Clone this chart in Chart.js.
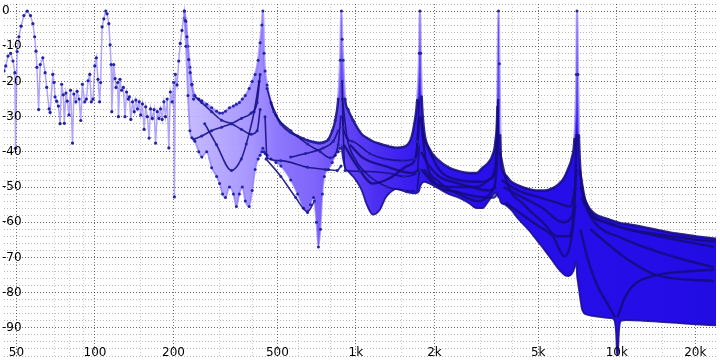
<!DOCTYPE html>
<html>
<head>
<meta charset="utf-8">
<script src="https://cdn.jsdelivr.net/npm/chart.js@4.4.1/dist/chart.umd.min.js"></script>
<style>
  html, body { margin: 0; padding: 0; background: #fff; }
  #wrap { width: 720px; height: 360px; }
</style>
</head>
<body>
<div id="wrap"><canvas id="resp" width="720" height="360"></canvas></div>
<script>
// axis ticks
const xMajorTicks = [50, 100, 200, 500, 1000, 2000, 5000, 10000, 20000];
const xLabels = ['50', '100', '200', '500', '1k', '2k', '5k', '10k', '20k'];
const xMinorTicks = [70, 80, 90, 150, 300, 400, 600, 800, 1500, 3000, 4000, 6000, 8000, 15000];
const yLabels = [0, -10, -20, -30, -40, -50, -60, -70, -80, -90];

// low band sweep, [Hz, dB]
const lowSweep = [
  [44.8,-17],[45.5,-15.6],[46.4,-12.8],[47.5,-12],[48.5,-14.2],[49.3,-17.5],[49.6,-39],[50.3,-11.5],
  [51.1,-7.3],[52.1,-4.3],[53.4,-1.3],[55,0],[56.6,-1.3],[57.8,-3.6],[58.7,-7.3],[59.4,-11.4],
  [59.9,-16],[60.8,-28],[61.7,-15.2],[63.1,-13.3],[64.4,-17.5],[65.3,-21.7],[66.7,-27.8],[67.3,-28.8],
  [68.9,-18],[69.7,-20.3],[70.3,-24.4],[71.3,-25.6],[72.4,-27],[73.5,-32],[74.5,-20.8],[75.6,-23.8],
  [76.3,-31.9],[77.4,-23.3],[78.3,-25.6],[79.5,-29.5],[80.6,-22.5],[82,-37.5],[83,-23.6],[84.5,-25.8],
  [85.4,-22.8],[86.9,-25],[88.2,-31.1],[89.5,-20.8],[91.4,-25.8],[92.7,-25],[94.1,-19.8],[95.5,-18],
  [96.8,-25.8],[98.3,-25],[99.8,-15.6],[101.2,-13.3],[102.7,-19.4],[104.2,-25.8],[105.1,-20.3],[106.5,-4.5],
  [108.1,-2.2],[110,0],[111.3,-0.8],[113,-3.6],[114.3,-9.6],[115.3,-15.2],[116,-28.6],[118,-15.2],
  [119.4,-19.2],[120.4,-21.7],[122.2,-20.3],[123,-30],[124.7,-19.4],[126.5,-22.5],[128.5,-21.7],[130.3,-30],
  [132.2,-23],[134.2,-25],[135.4,-24.4],[137.2,-30.8],[139.3,-25.8],[141.4,-28.6],[143.4,-25.3],[145.5,-27.8],
  [147.7,-25.8],[149.7,-29.5],[152,-26.4],[154.3,-33.6],[156.4,-27.2],[158.8,-30],[161.2,-36.1],[163.3,-27.8],
  [165.9,-30.5],[168.4,-28],[170.7,-37.5],[173.3,-28.6],[175.9,-30.5],[178.3,-27.8],[181,-30.8],[183.7,-25.8],
  [186.3,-30],[189.1,-25],[191.9,-38.9],[194.5,-23],[197.5,-25.8],[200.4,-20.3],[201.5,-52.8],[203.2,-18],
  [206.3,-21],[209.4,-14.2],[212.2,-9.2],[215.5,-5.5],[220,0],[221.8,-2.7],[225.1,-7.3],[228.5,-13.8],
  [231.6,-17.5],[235.2,-20.8],[238.7,-25]
];

// envelope of the upper bands (shared frequencies)
const envFreq = [
  220, 223.2, 227.1, 231.1, 235.2, 241.4, 250, 256.6, 268, 280, 292.5, 300.2, 308.3, 316.4, 327.7, 339.3,
  348.3, 357.5, 367, 376.7, 390, 400.5, 411.1, 422, 429.4, 436.2, 440,
  444.7, 448.6, 456.5, 472.7, 493.8, 515.8, 562.8, 598.2, 630.4, 652.7, 670.1, 687.9, 706.1, 718.5, 731.2,
  744.1, 757.2, 784, 811.8, 833.4, 855.4, 870.6, 880,
  885.9, 893.7, 909.4, 933.4, 975.2, 1009.8, 1054.2, 1101.2, 1161, 1234, 1300.3, 1346, 1430.7, 1507.9,
  1575, 1631.2, 1674.5, 1718.7, 1749, 1760,
  1772, 1787.6, 1827, 1909, 2083, 2273, 2480, 2706, 2902, 3058, 3222, 3336, 3425, 3485, 3520,
  3547, 3578, 3609, 3737, 3938, 4186, 4568, 4984, 5298, 5681, 5934, 6199, 6362, 6532, 6705, 6882, 7003, 7040,
  7097, 7159, 7253, 7381, 7710, 8054, 8413, 9423, 9757, 9929, 10061, 10193, 10373, 10930, 12676, 14576,
  16908, 20131, 24000
];
const envTop = [
  0, -3, -10, -16, -21, -24, -25, -25.5, -26.5, -27.5, -28.5, -29, -29, -28.5, -27.5, -27,
  -26.5, -26, -25, -24, -22, -20, -18, -14, -9, -4, 0,
  -12, -17, -21, -26, -29.5, -32, -34.5, -35.5, -36.3, -36.7, -37, -37.2, -37.4, -37.5, -37.5,
  -37.4, -37.2, -36.5, -34, -31, -25, -14, 0,
  -8, -14, -25, -28, -31, -33, -35, -36, -37, -37.7, -38.2, -38.5, -38.8, -38.7,
  -38, -36, -32, -25, -12, 0,
  -12, -24, -34, -39, -42.5, -44.5, -45.5, -46, -46, -44.5, -43, -41, -37, -27, 0,
  -15, -35, -44, -46.5, -48.5, -49.5, -50.5, -51, -51, -50.3, -49.4, -48, -46.5, -44.5, -42, -36, -18, 0,
  -18, -35, -45, -51, -55, -57, -58, -59.3, -59.7, -59.9, -60, -60.1, -60.3, -60.5, -61.4, -62.3,
  -63.2, -64, -64.7
];
const envBottom = [
  -2, -10, -24, -34, -36, -37, -40, -41.5, -40, -44.5, -47, -49, -52, -53, -50, -52,
  -55.5, -52, -50, -54, -55.5, -51, -45, -42, -41, -40, -39,
  -40, -40.5, -41, -42, -43, -44, -48, -52, -56, -57.2, -55, -53, -60, -67, -62,
  -52, -47, -45, -43, -41, -40, -39, -38,
  -40, -42, -44.5, -45.5, -47, -48.5, -51, -55, -57.8, -56.5, -53, -51.7, -50.5, -51,
  -51.5, -51.7, -51.8, -51.6, -51, -50,
  -49.5, -49, -48.5, -49, -50.5, -52, -53, -54.5, -56, -56, -54, -52.5, -51.7, -52, -53,
  -53, -54, -54.5, -55, -56.5, -59, -62, -65.5, -68, -71, -73, -74.5, -75.2, -75.3, -74.8, -73, -71, -75,
  -77, -79, -82, -85, -86.3, -86.6, -86.8, -87.2, -87.6, -91, -99, -91, -88, -87.8, -88, -88.3,
  -88.6, -89, -89.3
];

// inner skirts, [Hz, dB]
const skirtA1 = [[239.3,-24],[256.6,-26],[280,-28.6],[305.6,-31],[333.4,-32],[363.8,-33.6],[397,-35],[418.3,-34],[429.4,-28]];
const skirtA2 = [[239.3,-36.4],[256.6,-35.5],[280,-34],[305.6,-33],[333.4,-32],[363.8,-30.5],[397,-29],[418.3,-26],[429.4,-18]];
const skirtA3 = [[263.4,-32],[292.5,-38],[333.4,-45.3],[363.8,-42],[380,-37.8],[407.5,-28.6],[425.7,-20]];
const skirtB2 = [[448.6,-30],[456.5,-41.7],[515.8,-42.5],[652.7,-44.4],[763.8,-45],[848,-45.3],[877,-44]];
const skirtB3 = [[456.5,-22],[485.2,-28.6],[562.8,-34],[652.7,-37.8],[731.2,-40],[797.8,-41.7],[855.4,-38],[875,-30]];
const skirtB4 = [[452.5,-42],[515.8,-47],[587.9,-53],[652.7,-57],[693.9,-54]];
const skirtB5 = [[562.8,-41.5],[641.5,-40.5],[750.6,-38.9],[818.9,-37],[855.4,-34]];
const skirtC1 = [[885.9,-20],[893.7,-33],[966.7,-37],[1131,-40.5],[1289,-42],[1508,-42.5],[1674.5,-42],[1718.7,-37],[1749,-25]];
const skirtC2 = [[889,-30],[909.4,-45.3],[1036,-45.5],[1323,-46],[1534.5,-47],[1718.7,-46],[1749,-38]];
const skirtC3 = [[888,-25],[925.4,-36],[992.3,-42],[1131,-47],[1323,-50],[1534.5,-51],[1703.9,-51.2],[1755,-45]];
const skirtC4 = [[950,-38],[1063.5,-41.7],[1289,-44],[1645.5,-46],[1749,-45]];
const skirtC5 = [[900,-38],[1010,-44],[1161,-49],[1346,-47.5],[1575,-44],[1703.9,-41],[1749,-30]];
const skirtD1 = [[1779.8,-40],[1909,-44],[2083,-47],[2480,-49],[2777.7,-50],[3222,-51],[3454.7,-50]];
const skirtD2 = [[1827,-45],[2083,-50],[2480,-51.5],[2953,-52.8],[3365.6,-53],[3485,-52]];
const skirtD3 = [[1795.4,-35],[2083,-45],[2480,-48],[2953,-48.5],[3365.6,-47],[3485,-43]];
const skirtD4 = [[1775,-30],[1850,-42],[2083,-48.5],[2480,-52],[2953,-54],[3336,-51],[3485,-40],[3510,-25]];
const skirtD5 = [[1780,-45],[2000,-49],[2400,-50],[2900,-50],[3222,-48],[3425,-44],[3500,-32]];
const skirtE1 = [[3609,-48],[4186,-51],[4984,-52.8],[5934,-54.5],[6646.6,-55.5],[6942.5,-50]];
const skirtE2 = [[3737,-54.4],[4372.7,-58],[4984,-61],[5681,-64],[6307.3,-69.7],[6646.6,-66],[6942.5,-55]];
const skirtE3 = [[3672.8,-50],[4372.7,-53],[5206.2,-56],[6199,-60],[6763.6,-58],[7003,-45]];
const skirtE4 = [[3560,-40],[3800,-49],[4400,-55],[5200,-60],[5934,-64],[6532,-64],[6882,-55],[7010,-35]];
const skirtF1 = [[7253,-50],[7914.3,-57],[9589.4,-60.5],[12242,-62.8],[16908,-65],[23553,-67]];
const skirtF2 = [[7316.8,-53],[8195,-60],[10464,-64.5],[14200,-68.3],[18449,-70.8],[23553,-72.8]];
const skirtF3 = [[10061,-87],[10740,-81.4],[11618,-77.8],[14200,-75],[18449,-74],[23553,-73.5]];
const skirtF4 = [[7914.3,-62],[10740,-70],[14200,-75],[23553,-76.7]];
const skirtF5 = [[7253,-62],[7710,-70],[8413,-78],[9180,-83],[9844,-87]];
const skirtF6 = [[7200,-45],[7700,-56],[9000,-60],[11000,-62],[14576,-63.5],[20131,-65],[23970,-65.5]];

const skirts = [skirtA1, skirtA2, skirtA3, skirtB2, skirtB3, skirtB4, skirtB5,
  skirtC1, skirtC2, skirtC3, skirtC4, skirtC5, skirtD1, skirtD2, skirtD3, skirtD4, skirtD5,
  skirtE1, skirtE2, skirtE3, skirtE4, skirtF1, skirtF2, skirtF3, skirtF4, skirtF5, skirtF6];

const navy = 'rgba(20,12,126,0.88)';
const lav = 'rgba(125,105,255,0.6)';
const dot = '#2222a6';
const fillStops = [
  [200, 'rgba(196,186,255,0.85)'], [400, 'rgb(166,148,255)'], [500, 'rgb(142,120,252)'],
  [700, 'rgb(126,100,250)'], [880, 'rgb(102,72,246)'], [1200, 'rgb(76,46,242)'],
  [1760, 'rgb(52,24,238)'], [3000, 'rgb(40,15,236)'], [24000, 'rgb(34,12,228)']
];

function pts(pairs) {
  return pairs.map(p => ({ x: p[0], y: p[1] }));
}

function bandFill(c) {
  const chart = c.chart;
  const area = chart.chartArea;
  if (!area) return 'rgb(60,30,240)';
  const xs = chart.scales.x;
  const g = chart.ctx.createLinearGradient(area.left, 0, area.right, 0);
  fillStops.forEach(([f, col]) => {
    let t = (xs.getPixelForValue(f) - area.left) / (area.right - area.left);
    g.addColorStop(Math.min(1, Math.max(0, t)), col);
  });
  return g;
}

function topEdgeColor(c) {
  const a = c.p0.parsed, b = c.p1.parsed;
  if (a.x < 440 || a.y > -22 || b.y > -22) return lav;
  return navy;
}

const topPts = envFreq.map((f, i) => ({ x: f, y: envTop[i] }));
const bottomPts = envFreq.map((f, i) => ({ x: f, y: envBottom[i] }));

const datasets = [];
datasets.push({
  data: pts(lowSweep),
  borderColor: lav, borderWidth: 1.5,
  pointRadius: 1.6, pointBackgroundColor: dot, pointBorderWidth: 0,
  tension: 0, fill: false
});
skirts.forEach(s => {
  const low = s[0][0] < 900;
  datasets.push({
    data: pts(s),
    borderColor: navy, borderWidth: low ? 1.6 : 2.4,
    pointRadius: low ? 1.5 : 0, pointBackgroundColor: dot, pointBorderWidth: 0,
    cubicInterpolationMode: 'monotone', fill: false
  });
});
// visible edges
datasets.push({
  data: topPts,
  borderColor: navy, borderWidth: 2.4,
  segment: { borderColor: topEdgeColor },
  pointRadius: c => (c.raw && (c.raw.x < 1000 || c.raw.y > -22)) ? 1.5 : 0,
  pointBackgroundColor: dot, pointBorderWidth: 0,
  cubicInterpolationMode: 'monotone', fill: false
});
datasets.push({
  data: bottomPts,
  borderColor: navy, borderWidth: 1.8,
  segment: { borderColor: c => c.p0.parsed.x < 880 ? lav : 'rgba(26,14,150,0.9)' },
  pointRadius: c => (c.raw && c.raw.x < 880) ? 1.5 : 0,
  pointBackgroundColor: dot, pointBorderWidth: 0,
  cubicInterpolationMode: 'monotone', fill: false
});
// filled band between the envelopes
datasets.push({
  data: topPts, borderWidth: 0, borderColor: 'rgba(0,0,0,0)', pointRadius: 0,
  cubicInterpolationMode: 'monotone', fill: false
});
datasets.push({
  data: bottomPts, borderWidth: 0, borderColor: 'rgba(0,0,0,0)', pointRadius: 0,
  cubicInterpolationMode: 'monotone',
  fill: '-1', backgroundColor: bandFill
});

const axisLabels = {
  id: 'axisLabels',
  afterDatasetsDraw(chart) {
    const { ctx, scales: { x, y } } = chart;
    ctx.save();
    ctx.font = '12px "DejaVu Sans"';
    ctx.fillStyle = '#000';
    ctx.textBaseline = 'middle';
    ctx.textAlign = 'left';
    yLabels.forEach(v => ctx.fillText(String(v), 2, y.getPixelForValue(v)));
    ctx.textAlign = 'center';
    xMajorTicks.forEach((v, i) => ctx.fillText(xLabels[i], x.getPixelForValue(v), 353));
    ctx.restore();
  }
};

new Chart(document.getElementById('resp'), {
  type: 'line',
  data: { datasets: datasets },
  options: {
    responsive: false,
    animation: false,
    layout: { padding: 0 },
    plugins: { legend: { display: false }, tooltip: { enabled: false } },
    scales: {
      x: {
        type: 'logarithmic',
        min: 44.8, max: 24000,
        afterBuildTicks: s => {
          s.ticks = xMajorTicks.concat(xMinorTicks).sort((a, b) => a - b).map(v => ({ value: v }));
        },
        ticks: { display: false },
        grid: {
          drawTicks: false,
          color: c => xMajorTicks.includes(c.tick.value) ? 'rgba(0,0,0,0.55)' : 'rgba(0,0,0,0.2)'
        },
        border: { display: false, dash: [1, 2] }
      },
      y: {
        type: 'linear',
        min: -98, max: 2,
        ticks: { display: false, stepSize: 2 },
        grid: {
          drawTicks: false,
          color: c => (c.tick.value % 10 === 0) ? 'rgba(0,0,0,0.6)' : 'rgba(0,0,0,0.28)'
        },
        border: { display: false, dash: [1, 2] }
      }
    }
  },
  plugins: [axisLabels]
});
</script>
</body>
</html>
